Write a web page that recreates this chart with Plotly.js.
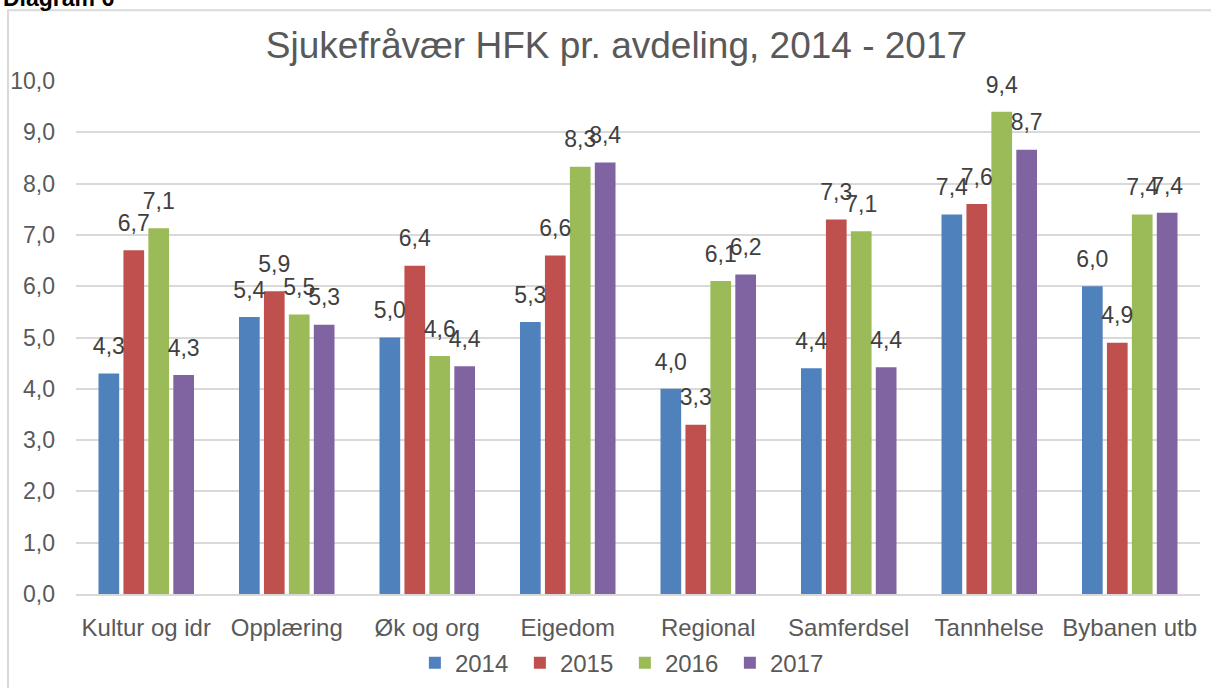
<!DOCTYPE html>
<html>
<head>
<meta charset="utf-8">
<script src="https://cdn.plot.ly/plotly-3.0.1.min.js"></script>
<style>
  html, body { margin: 0; padding: 0; background: #fff; }
  #chart { width: 1211px; height: 688px; }
</style>
</head>
<body>
<div id="chart"></div>
<script>
var categories = ['Kultur og idr', 'Opplæring', 'Øk og org', 'Eigedom', 'Regional', 'Samferdsel', 'Tannhelse', 'Bybanen utb'];
var years = ['2014', '2015', '2016', '2017'];
var v2014 = [4.3, 5.4, 5.0, 5.3, 4.0, 4.4, 7.4, 6.0];
var v2015 = [6.7, 5.9, 6.4, 6.6, 3.3, 7.3, 7.6, 4.9];
var v2016 = [7.13, 5.45, 4.64, 8.33, 6.1, 7.07, 9.4, 7.4];
var v2017 = [4.27, 5.25, 4.44, 8.41, 6.23, 4.42, 8.66, 7.43];
var colors = ['#4F81BD', '#C0504D', '#9BBB59', '#8064A2'];

var series = [v2014, v2015, v2016, v2017];
var bars = series.map(function (vals, i) {
  return {
    type: 'bar',
    name: years[i],
    x: categories,
    y: vals,
    offsetgroup: years[i],
    alignmentgroup: 'a',
    marker: { color: colors[i] },
    hoverinfo: 'x+y+name'
  };
});

// data labels, sitting a bit above each bar like Excel does
var labels = series.map(function (vals, i) {
  return {
    type: 'scatter',
    mode: 'markers+text',
    x: categories,
    y: vals,
    offsetgroup: years[i],
    alignmentgroup: 'a',
    showlegend: false,
    marker: { size: 20, opacity: 0 },
    texttemplate: '%{y:.1f}',
    textposition: 'top center',
    cliponaxis: false,
    textfont: { family: 'Liberation Sans, Arial, sans-serif', size: 23, color: '#404040' },
    hoverinfo: 'skip'
  };
});

var layout = {
  width: 1211,
  height: 688,
  margin: { l: 76, r: 11, t: 81, b: 94 },
  separators: ', ',
  paper_bgcolor: '#ffffff',
  plot_bgcolor: '#ffffff',
  font: { family: 'Liberation Sans, Arial, sans-serif', color: '#595959' },
  barmode: 'group',
  scattermode: 'group',
  bargap: 0.29,
  bargroupgap: 0.17,
  scattergap: 0.29,
  title: {
    text: 'Sjukefråvær HFK pr. avdeling, 2014 - 2017',
    font: { size: 37, color: '#595959' },
    x: 0.509,
    xanchor: 'center',
    y: 0.935,
    yanchor: 'middle'
  },
  xaxis: {
    tickfont: { size: 24, color: '#595959' },
    showline: true,
    linecolor: '#d9d9d9',
    linewidth: 2,
    ticks: '',
    ticklabelstandoff: 11
  },
  yaxis: {
    range: [0, 10],
    dtick: 1,
    tickformat: '.1f',
    tickfont: { size: 23, color: '#595959' },
    gridcolor: '#d9d9d9',
    gridwidth: 2,
    zeroline: false,
    ticks: '',
    ticklabelstandoff: 20
  },
  legend: {
    orientation: 'h',
    xref: 'container',
    yref: 'container',
    x: 0.516,
    xanchor: 'center',
    y: 0.036,
    yanchor: 'middle',
    entrywidth: 60,
    bgcolor: 'rgba(0,0,0,0)',
    font: { size: 24, color: '#595959' }
  },
  shapes: [{
    type: 'rect',
    xref: 'paper', yref: 'paper',
    x0: -0.0605, x1: 1.05,
    y0: -0.3, y1: 1.138,
    line: { color: '#d9d9d9', width: 2 },
    fillcolor: 'rgba(0,0,0,0)',
    layer: 'below'
  }],
  annotations: [{
    text: '<b>Diagram 6</b>',
    xref: 'paper', yref: 'paper',
    x: -0.067, y: 1.162,
    xanchor: 'left', yanchor: 'middle',
    showarrow: false,
    font: { size: 23, color: '#000000' }
  }]
};

Plotly.newPlot('chart', bars.concat(labels), layout, { displayModeBar: false, staticPlot: true });
</script>
</body>
</html>
